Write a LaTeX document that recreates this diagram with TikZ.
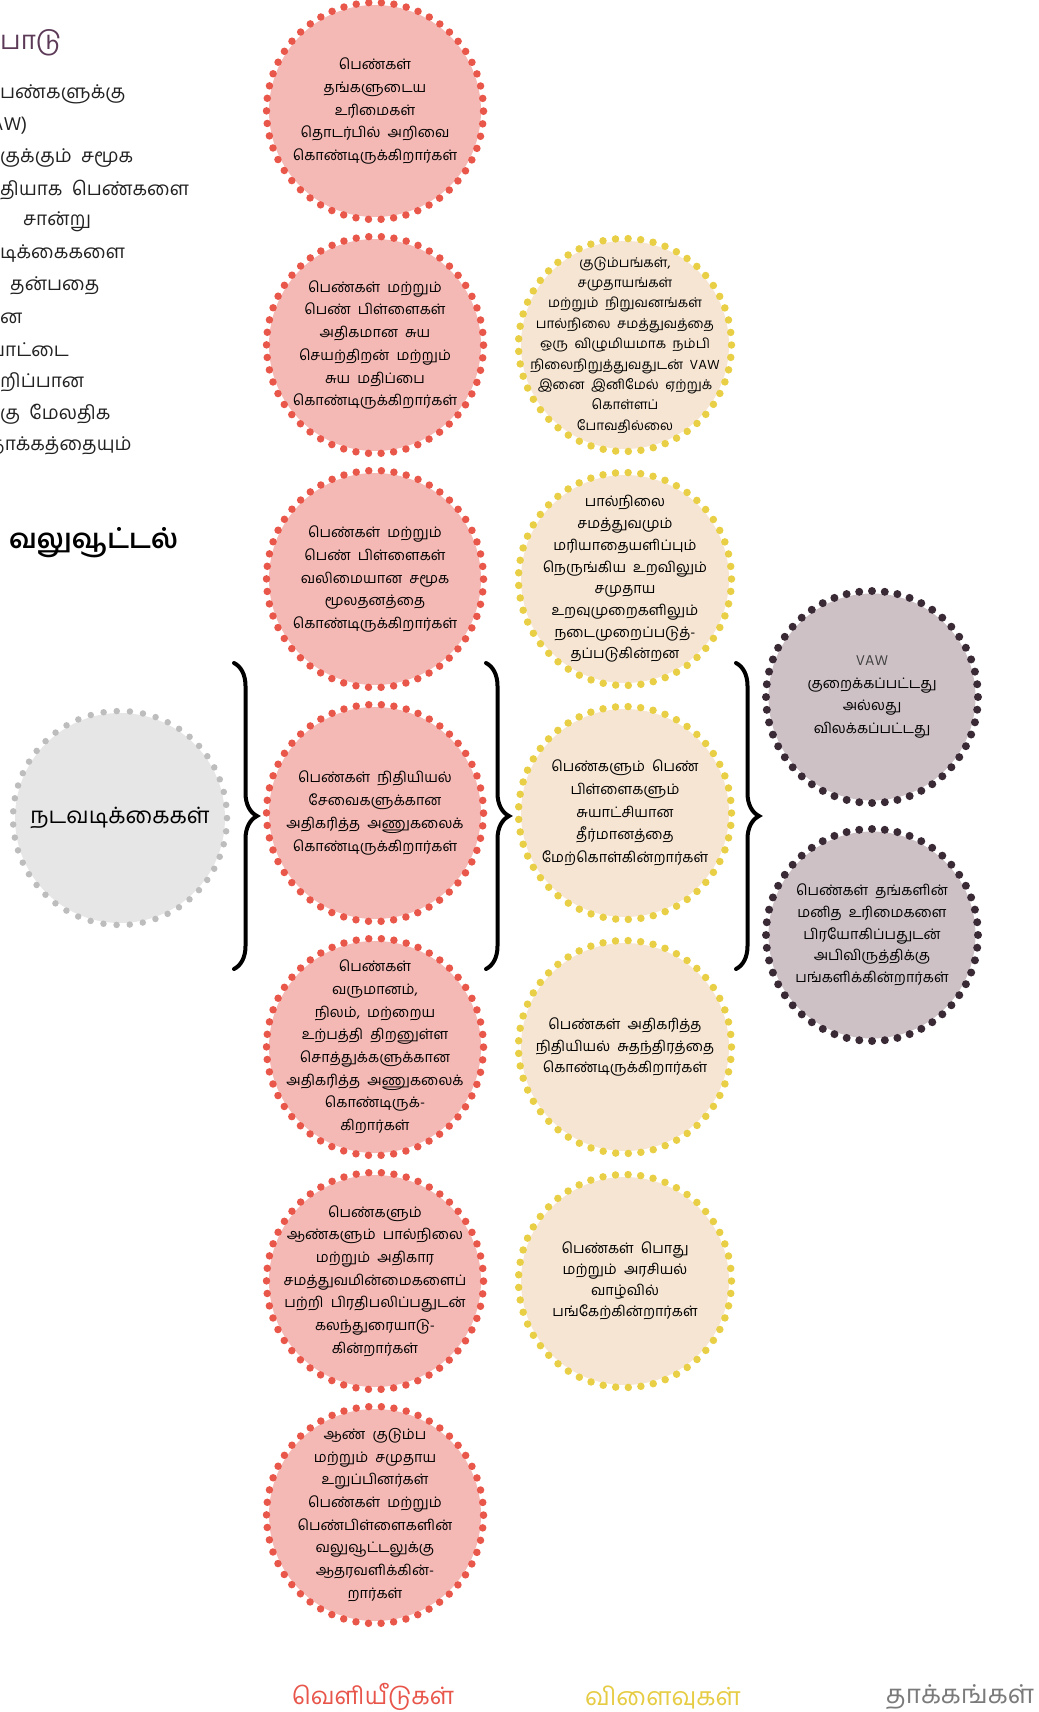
\documentclass[tikz,border=0pt]{standalone}
\usepackage{fontspec}
\newfontfamily\tam[Script=Tamil]{Hind Madurai}
\usetikzlibrary{decorations.pathreplacing}
\definecolor{redfill}{HTML}{F4B9B5}
\definecolor{reddot}{HTML}{E9574A}
\definecolor{yelfill}{HTML}{F6E5D2}
\definecolor{yeldot}{HTML}{E8CF45}
\definecolor{purfill}{HTML}{CDC1C6}
\definecolor{purdot}{HTML}{3A2A35}
\definecolor{grayfill}{HTML}{E6E6E6}
\definecolor{graydot}{HTML}{BDBDBD}
\definecolor{titlepur}{HTML}{5C3A57}
\definecolor{labred}{HTML}{E8554A}
\definecolor{labyel}{HTML}{E6CC44}
\definecolor{labgray}{HTML}{7A7A7A}
\definecolor{bodytxt}{HTML}{222222}
\begin{document}
\begin{tikzpicture}[x=1pt,y=-1pt,
  ctext/.style={align=center, text=black, inner sep=-80pt, font=\tam\fontsize{14.5}{22.7}\selectfont},
  redb/.style={circle, fill=redfill, minimum size=212pt, ctext},
  yelb/.style={circle, fill=yelfill, minimum size=208pt, ctext},
  purb/.style={circle, fill=purfill, minimum size=207pt, ctext},
  grayb/.style={circle, fill=grayfill, minimum size=210pt, ctext},
  reddots/.style={draw=reddot, line width=7.5pt, line cap=round, dash pattern=on 0pt off 12.62pt},
  yeldots/.style={draw=yeldot, line width=7.5pt, line cap=round, dash pattern=on 0pt off 12.63pt},
  purdots/.style={draw=purdot, line width=8pt, line cap=round, dash pattern=on 0pt off 12.81pt},
  graydots/.style={draw=graydot, line width=6.5pt, line cap=round, dash pattern=on 0pt off 13.18pt},
  bracestyle/.style={draw=black, line width=4pt, line cap=round, decorate, decoration={brace, amplitude=23pt}},
  lefttxt/.style={anchor=west, inner sep=0pt, text=bodytxt, font=\tam\fontsize{19}{24}\selectfont},
  collabel/.style={inner sep=0pt, font=\tam\fontsize{25}{30}\selectfont}
]
\useasboundingbox (0,0) rectangle (1038,1712);

% left column text (clipped at the page edge)
\node[lefttxt, text=titlepur, font=\tam\fontsize{26}{30}\selectfont] (ttl) at (0,43) {பாடு};
\node[lefttxt] (l1) at (0,94) {பண்களுக்கு};
\node[lefttxt] (l2) at (-9,126) {AW)};
\node[lefttxt] (l3) at (0,158) {குக்கும்\ \ சமூக};
\node[lefttxt] (l4) at (0,190) {தியாக\ \ பெண்களை};
\node[lefttxt] (l5) at (23,222) {சான்று};
\node[lefttxt] (l6) at (0,254) {டிக்கைகளை};
\node[lefttxt] (l7) at (10,286) {தன்பதை};
\node[lefttxt] (l8) at (0,318) {ன};
\node[lefttxt] (l9) at (-10,350) {பாட்டை};
\node[lefttxt] (l10) at (0,382) {றிப்பான};
\node[lefttxt] (l11) at (0,414) {கு\ \ மேலதிக};
\node[lefttxt] (l12) at (-10,446) {தாக்கத்தையும்};
\node[lefttxt, text=black, font=\tam\bfseries\fontsize{27}{32}\selectfont] (head) at (9,543) {வலுவூட்டல்};

% outputs (red)
\node[redb] (r1) at (375,111) {பெண்கள்\\தங்களுடைய\\உரிமைகள்\\தொடர்பில்\ \ அறிவை\\கொண்டிருக்கிறார்கள்};
\node[redb] (r2) at (375,345) {பெண்கள்\ \ மற்றும்\\பெண்\ \ பிள்ளைகள்\\அதிகமான\ \ சுய\\செயற்திறன்\ \ மற்றும்\\சுய\ \ மதிப்பை\\கொண்டிருக்கிறார்கள்};
\node[redb] (r3) at (375,579) {பெண்கள்\ \ மற்றும்\\பெண்\ \ பிள்ளைகள்\\வலிமையான\ \ சமூக\\மூலதனத்தை\\கொண்டிருக்கிறார்கள்};
\node[redb] (r4) at (375,813) {பெண்கள்\ \ நிதியியல்\\சேவைகளுக்கான\\அதிகரித்த\ \ அணுகலைக்\\கொண்டிருக்கிறார்கள்};
\node[redb] (r5) at (375,1047) {பெண்கள்\\வருமானம்,\\நிலம்,\ \ மற்றைய\\உற்பத்தி\ \ திறனுள்ள\\சொத்துக்களுக்கான\\அதிகரித்த\ \ அணுகலைக்\\கொண்டிருக்-\\கிறார்கள்};
\node[redb] (r6) at (375,1281) {பெண்களும்\\ஆண்களும்\ \ பால்நிலை\\மற்றும்\ \ அதிகார\\சமத்துவமின்மைகளைப்\\பற்றி\ \ பிரதிபலிப்பதுடன்\\கலந்துரையாடு-\\கின்றார்கள்};
\node[redb] (r7) at (375,1515) {ஆண்\ \ குடும்ப\\மற்றும்\ \ சமுதாய\\உறுப்பினர்கள்\\பெண்கள்\ \ மற்றும்\\பெண்பிள்ளைகளின்\\வலுவூட்டலுக்கு\\ஆதரவளிக்கின்-\\றார்கள்};

% outcomes (yellow)
\node[yelb, font=\tam\fontsize{13.5}{20.4}\selectfont] (y1) at (625,345) {குடும்பங்கள்,\\சமுதாயங்கள்\\மற்றும்\ \ நிறுவனங்கள்\\பால்நிலை\ \ சமத்துவத்தை\\ஒரு\ \ விழுமியமாக\ \ நம்பி\\நிலைநிறுத்துவதுடன்\ \ VAW\\இனை\ \ இனிமேல்\ \ ஏற்றுக்\\கொள்ளப்\\போவதில்லை};
\node[yelb, font=\tam\fontsize{14.5}{21.7}\selectfont] (y2) at (625,579) {பால்நிலை\\சமத்துவமும்\\மரியாதையளிப்பும்\\நெருங்கிய\ \ உறவிலும்\\சமுதாய\\உறவுமுறைகளிலும்\\நடைமுறைப்படுத்-\\தப்படுகின்றன};
\node[yelb] (y3) at (625,813) {பெண்களும்\ \ பெண்\\பிள்ளைகளும்\\சுயாட்சியான\\தீர்மானத்தை\\மேற்கொள்கின்றார்கள்};
\node[yelb, font=\tam\fontsize{14.5}{21.7}\selectfont] (y4) at (625,1047) {பெண்கள்\ \ அதிகரித்த\\நிதியியல்\ \ சுதந்திரத்தை\\கொண்டிருக்கிறார்கள்};
\node[yelb, font=\tam\fontsize{14.5}{21}\selectfont] (y5) at (625,1281) {பெண்கள்\ \ பொது\\மற்றும்\ \ அரசியல்\\வாழ்வில்\\பங்கேற்கின்றார்கள்};

% impacts (purple)
\node[purb] (p1) at (872,697) {{\color{black!75}VAW}\\குறைக்கப்பட்டது\\அல்லது\\விலக்கப்பட்டது};
\node[purb, font=\tam\fontsize{14.5}{21.7}\selectfont] (p2) at (872,935) {பெண்கள்\ \ தங்களின்\\மனித\ \ உரிமைகளை\\பிரயோகிப்பதுடன்\\அபிவிருத்திக்கு\\பங்களிக்கின்றார்கள்};

% activities (gray)
\node[grayb, font=\tam\fontsize{22.5}{26}\selectfont] (g1) at (120,818) {நடவடிக்கைகள்};

% dotted rings
\foreach \n in {r1,r2,r3,r4,r5,r6,r7} \draw[reddots] (\n.center) circle (108.5pt);
\foreach \n in {y1,y2,y3,y4,y5} \draw[yeldots] (\n.center) circle (106.5pt);
\foreach \n in {p1,p2} \draw[purdots] (\n.center) circle (106pt);
\draw[graydots] (g1.center) circle (107pt);

% braces
\coordinate (b1t) at (234,663); \coordinate (b1b) at (234,969);
\coordinate (b2t) at (486,663); \coordinate (b2b) at (486,969);
\coordinate (b3t) at (736,663); \coordinate (b3b) at (736,969);
\draw[bracestyle] (b1t) -- (b1b);
\draw[bracestyle] (b2t) -- (b2b);
\draw[bracestyle] (b3t) -- (b3b);

% column labels
\node[collabel, text=labred, font=\tam\fontsize{24}{30}\selectfont] (lab1) at (373,1697) {வெளியீடுகள்};
\node[collabel, text=labyel] (lab2) at (663,1697) {விளைவுகள்};
\node[collabel, text=labgray, font=\tam\fontsize{26}{30}\selectfont] (lab3) at (960,1697) {தாக்கங்கள்};
\end{tikzpicture}
\end{document}
